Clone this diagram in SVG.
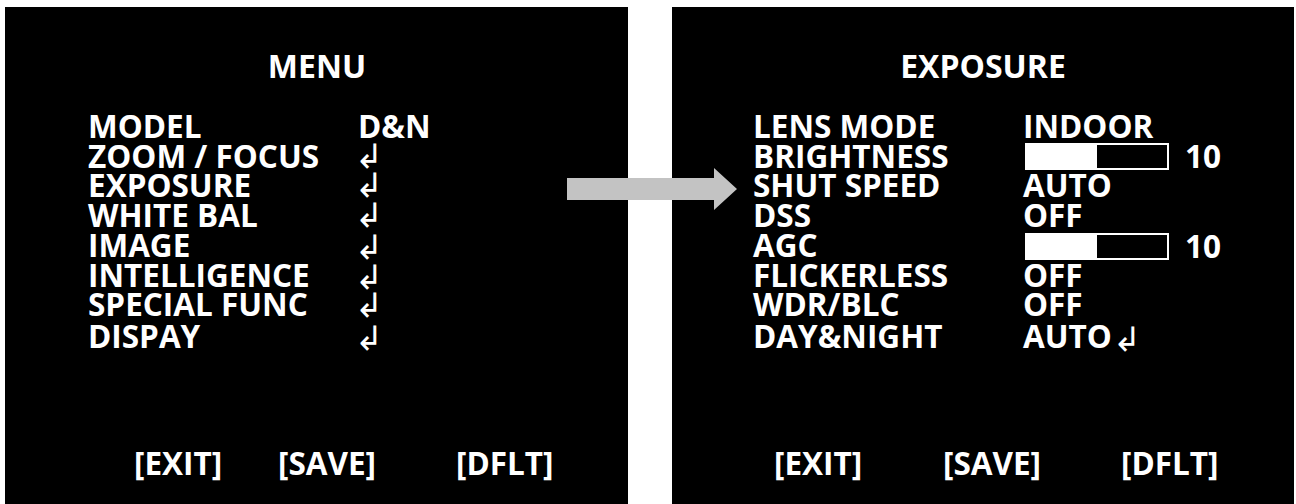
<svg xmlns="http://www.w3.org/2000/svg" width="1296" height="504" viewBox="0 0 1296 504">
<style>
.t{font-family:"Open Sans","Liberation Sans",sans-serif;font-weight:bold;font-size:31.5px;fill:#fff}
.h{font-size:32px;text-anchor:middle}
.b{font-size:31.5px}
.sym{font-family:"DejaVu Sans",sans-serif;font-size:34px;fill:#fff}
.bar{fill:#000;stroke:#fff;stroke-width:2}
</style>
<rect x="0" y="0" width="1296" height="504" fill="#fff"/>
<g id="menu-panel">
<rect x="5" y="7" width="623" height="497" fill="#000"/>
<text class="t h" x="317" y="78">MENU</text>
<text class="t" x="88" y="138">MODEL</text>
<text class="t" x="88" y="167.5">ZOOM / FOCUS</text>
<text class="t" x="88" y="197">EXPOSURE</text>
<text class="t" x="88" y="226.5">WHITE BAL</text>
<text class="t" x="88" y="256.5">IMAGE</text>
<text class="t" x="88" y="286.5">INTELLIGENCE</text>
<text class="t" x="88" y="315.5">SPECIAL FUNC</text>
<text class="t" x="88" y="347.5">DISPAY</text>
<text class="t" x="358" y="138">D&amp;N</text>
<text class="sym" x="355" y="168">↲</text>
<text class="sym" x="355" y="197">↲</text>
<text class="sym" x="355" y="227">↲</text>
<text class="sym" x="355" y="259">↲</text>
<text class="sym" x="355" y="289">↲</text>
<text class="sym" x="355" y="317">↲</text>
<text class="sym" x="355" y="350">↲</text>
<text class="t b" x="134" y="475">[EXIT]</text>
<text class="t b" x="278" y="475">[SAVE]</text>
<text class="t b" x="456" y="475">[DFLT]</text>
</g>
<g id="exposure-panel">
<rect x="672" y="7" width="622" height="497" fill="#000"/>
<text class="t h" x="983" y="78">EXPOSURE</text>
<text class="t" x="753" y="138">LENS MODE</text>
<text class="t" x="753" y="167.5">BRIGHTNESS</text>
<text class="t" x="753" y="197">SHUT SPEED</text>
<text class="t" x="753" y="226.5">DSS</text>
<text class="t" x="753" y="256.5">AGC</text>
<text class="t" x="753" y="286.5">FLICKERLESS</text>
<text class="t" x="753" y="315.5">WDR/BLC</text>
<text class="t" x="753" y="347.5">DAY&amp;NIGHT</text>
<text class="t" x="1023" y="138">INDOOR</text>
<rect class="bar" x="1026" y="144" width="142" height="25"/>
<rect x="1026" y="144" width="71" height="25" fill="#fff"/>
<text class="t" x="1185" y="167.5">10</text>
<text class="t" x="1023" y="197">AUTO</text>
<text class="t" x="1023" y="226.5">OFF</text>
<rect class="bar" x="1026" y="234" width="142" height="25"/>
<rect x="1026" y="234" width="71" height="25" fill="#fff"/>
<text class="t" x="1185" y="257.5">10</text>
<text class="t" x="1023" y="286.5">OFF</text>
<text class="t" x="1023" y="315.5">OFF</text>
<text class="t" x="1023" y="347.5">AUTO</text>
<text class="sym" x="1113" y="351">↲</text>
<text class="t b" x="774" y="475">[EXIT]</text>
<text class="t b" x="943" y="475">[SAVE]</text>
<text class="t b" x="1121" y="475">[DFLT]</text>
</g>
<g id="connectors">
<polygon points="567,178 714,178 714,168 737,189 714,210 714,200 567,200" fill="#c3c3c3"/>
</g>
</svg>
